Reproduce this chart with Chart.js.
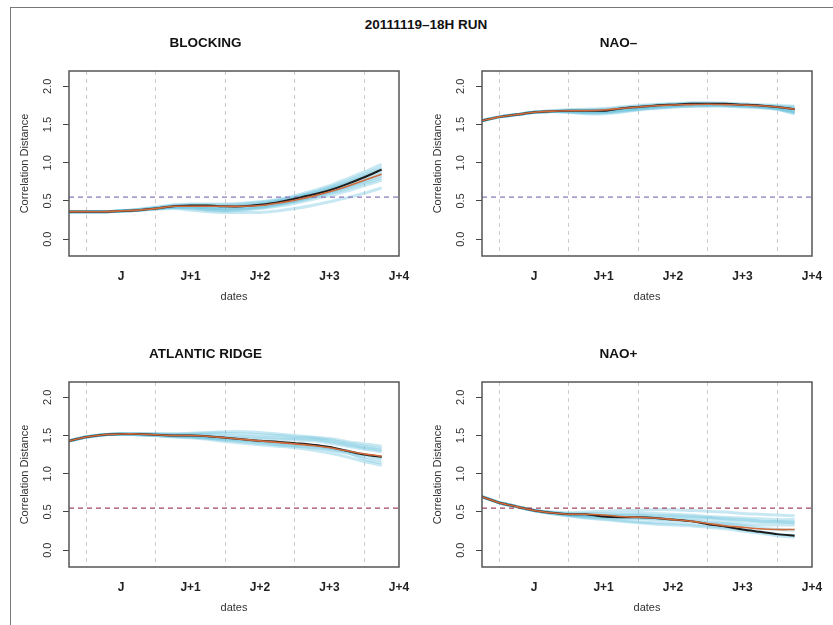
<!DOCTYPE html>
<html>
<head>
<meta charset="utf-8">
<script src="https://cdn.jsdelivr.net/npm/chart.js@4.4.1/dist/chart.umd.min.js"></script>
<style>
html, body { margin: 0; padding: 0; background: #fff; }
body { width: 833px; height: 625px; position: relative; overflow: hidden; font-family: "Liberation Sans", Arial, sans-serif; }
#frame { position: absolute; left: 10px; top: 7px; width: 840px; height: 640px; border-left: 1.5px solid #777; border-top: 1.5px solid #777; }
#main-title { position: absolute; left: 0; width: 852px; top: 17px; text-align: center; font-weight: bold; font-size: 13.5px; color: #111; }
canvas { position: absolute; }
</style>
</head>
<body>
<div id="frame"></div>
<div id="main-title">20111119–18H RUN</div>
<canvas id="c-blocking" width="417" height="282" style="left:12px;top:28px"></canvas>
<canvas id="c-naominus" width="417" height="282" style="left:425px;top:28px"></canvas>
<canvas id="c-ridge" width="417" height="282" style="left:12px;top:339px"></canvas>
<canvas id="c-naoplus" width="417" height="282" style="left:425px;top:339px"></canvas>
<script>
// échéances (heures depuis J 00h), run de 18h la veille
const hours = [-6, 0, 6, 12, 18, 24, 30, 36, 42, 48, 54, 60, 66, 72, 78, 84, 90, 96, 102];
const xTickHours = [12, 36, 60, 84, 108];
const xTickLabels = ["J", "J+1", "J+2", "J+3", "J+4"];
const dayLines = [0, 24, 48, 72, 96];
const yTicks = [0, 0.5, 1, 1.5, 2];
const threshold = 0.55;
const xMin = -6, xMax = 108;
const yMin = -0.22, yMax = 2.2;

// BLOCKING
const blockingOrange = [0.36,0.36,0.36,0.37,0.38,0.40,0.43,0.43,0.43,0.43,0.43,0.44,0.47,0.51,0.56,0.62,0.69,0.77,0.85];
const blockingBlack  = [0.36,0.36,0.36,0.37,0.38,0.40,0.43,0.44,0.44,0.43,0.43,0.45,0.48,0.53,0.58,0.64,0.72,0.81,0.91];
const blockingMembers = [
  [0.36,0.36,0.36,0.37,0.39,0.42,0.45,0.46,0.46,0.46,0.47,0.49,0.52,0.57,0.63,0.70,0.79,0.88,0.98],
  [0.36,0.36,0.36,0.37,0.39,0.41,0.44,0.45,0.45,0.45,0.46,0.48,0.51,0.55,0.61,0.68,0.76,0.85,0.94],
  [0.36,0.36,0.36,0.37,0.38,0.40,0.42,0.42,0.41,0.40,0.41,0.43,0.46,0.51,0.56,0.62,0.69,0.77,0.86],
  [0.36,0.36,0.36,0.37,0.38,0.40,0.42,0.41,0.39,0.38,0.39,0.41,0.45,0.49,0.54,0.60,0.66,0.73,0.80],
  [0.36,0.36,0.36,0.37,0.38,0.40,0.41,0.40,0.38,0.37,0.38,0.40,0.43,0.47,0.52,0.57,0.63,0.70,0.77],
  [0.36,0.36,0.36,0.37,0.38,0.39,0.40,0.38,0.36,0.35,0.35,0.35,0.37,0.40,0.44,0.49,0.54,0.60,0.67],
  [0.36,0.36,0.36,0.37,0.38,0.40,0.43,0.43,0.42,0.42,0.43,0.45,0.49,0.54,0.59,0.66,0.74,0.83,0.92],
  [0.36,0.36,0.36,0.37,0.38,0.41,0.43,0.44,0.43,0.43,0.44,0.46,0.50,0.55,0.60,0.66,0.73,0.81,0.89],
  [0.36,0.36,0.36,0.37,0.38,0.40,0.42,0.42,0.40,0.39,0.40,0.42,0.45,0.50,0.55,0.61,0.68,0.75,0.83]
];

// NAO-
const naoMinusOrange = [1.55,1.60,1.63,1.66,1.675,1.68,1.68,1.69,1.71,1.73,1.745,1.755,1.76,1.765,1.76,1.755,1.745,1.73,1.70];
const naoMinusBlack  = [1.55,1.60,1.63,1.66,1.675,1.68,1.68,1.68,1.71,1.73,1.75,1.76,1.77,1.77,1.77,1.76,1.75,1.73,1.70];
const naoMinusMembers = [
  [1.55,1.60,1.63,1.66,1.67,1.67,1.66,1.66,1.68,1.70,1.72,1.73,1.74,1.75,1.75,1.74,1.73,1.70,1.64],
  [1.55,1.60,1.63,1.66,1.67,1.68,1.67,1.67,1.69,1.72,1.74,1.75,1.76,1.76,1.76,1.75,1.74,1.72,1.67],
  [1.55,1.60,1.63,1.66,1.68,1.69,1.69,1.70,1.72,1.74,1.76,1.77,1.78,1.78,1.77,1.76,1.75,1.74,1.73],
  [1.55,1.60,1.63,1.66,1.67,1.66,1.65,1.65,1.67,1.70,1.72,1.74,1.75,1.75,1.75,1.74,1.73,1.71,1.66],
  [1.55,1.60,1.63,1.66,1.68,1.69,1.70,1.71,1.73,1.75,1.76,1.77,1.78,1.78,1.78,1.77,1.76,1.75,1.74],
  [1.55,1.60,1.63,1.66,1.67,1.67,1.66,1.67,1.69,1.71,1.73,1.75,1.76,1.76,1.76,1.75,1.73,1.71,1.68],
  [1.55,1.60,1.63,1.66,1.67,1.68,1.68,1.69,1.71,1.73,1.75,1.76,1.77,1.77,1.76,1.75,1.74,1.73,1.71],
  [1.55,1.60,1.63,1.66,1.67,1.66,1.64,1.64,1.66,1.69,1.71,1.73,1.74,1.74,1.74,1.73,1.72,1.70,1.65]
];

// ATLANTIC RIDGE
const ridgeOrange = [1.43,1.48,1.51,1.52,1.52,1.51,1.50,1.50,1.49,1.47,1.45,1.43,1.41,1.39,1.37,1.34,1.30,1.26,1.23];
const ridgeBlack  = [1.43,1.48,1.51,1.52,1.52,1.51,1.50,1.50,1.49,1.47,1.45,1.43,1.42,1.40,1.38,1.35,1.30,1.25,1.22];
const ridgeMembers = [
  [1.43,1.48,1.51,1.52,1.52,1.52,1.52,1.53,1.54,1.55,1.55,1.54,1.52,1.50,1.48,1.46,1.42,1.39,1.36],
  [1.43,1.48,1.51,1.52,1.52,1.52,1.52,1.52,1.53,1.53,1.52,1.51,1.50,1.48,1.47,1.44,1.40,1.36,1.33],
  [1.43,1.48,1.51,1.52,1.52,1.51,1.50,1.50,1.49,1.48,1.47,1.46,1.45,1.44,1.43,1.40,1.36,1.32,1.29],
  [1.43,1.48,1.51,1.52,1.51,1.50,1.49,1.48,1.46,1.44,1.42,1.40,1.38,1.36,1.34,1.31,1.27,1.22,1.18],
  [1.43,1.48,1.51,1.52,1.51,1.50,1.48,1.47,1.45,1.42,1.40,1.38,1.36,1.34,1.31,1.27,1.22,1.16,1.11],
  [1.43,1.48,1.51,1.52,1.52,1.51,1.50,1.49,1.47,1.45,1.44,1.42,1.41,1.39,1.37,1.34,1.30,1.25,1.21],
  [1.43,1.48,1.51,1.52,1.52,1.52,1.51,1.51,1.51,1.50,1.49,1.48,1.47,1.46,1.45,1.42,1.38,1.34,1.31],
  [1.43,1.48,1.51,1.52,1.51,1.50,1.49,1.48,1.47,1.46,1.44,1.42,1.39,1.37,1.35,1.32,1.28,1.19,1.14]
];

// NAO+
const naoPlusOrange = [0.70,0.62,0.57,0.52,0.49,0.47,0.47,0.46,0.44,0.43,0.42,0.40,0.38,0.35,0.32,0.30,0.28,0.27,0.27];
const naoPlusBlack  = [0.70,0.62,0.57,0.52,0.49,0.47,0.47,0.44,0.43,0.43,0.42,0.40,0.38,0.34,0.31,0.27,0.24,0.21,0.19];
const naoPlusMembers = [
  [0.70,0.62,0.57,0.52,0.50,0.49,0.50,0.51,0.52,0.52,0.53,0.53,0.52,0.51,0.50,0.48,0.47,0.46,0.45],
  [0.70,0.62,0.57,0.52,0.49,0.48,0.48,0.48,0.48,0.48,0.48,0.47,0.46,0.44,0.43,0.42,0.41,0.40,0.40],
  [0.70,0.62,0.57,0.52,0.49,0.47,0.46,0.45,0.45,0.45,0.44,0.43,0.42,0.41,0.39,0.38,0.37,0.37,0.36],
  [0.70,0.62,0.57,0.52,0.49,0.46,0.44,0.43,0.42,0.41,0.40,0.39,0.38,0.36,0.35,0.34,0.33,0.33,0.33],
  [0.70,0.62,0.57,0.52,0.48,0.45,0.43,0.41,0.39,0.37,0.36,0.35,0.34,0.32,0.30,0.27,0.24,0.21,0.19],
  [0.70,0.62,0.57,0.52,0.48,0.45,0.42,0.40,0.38,0.36,0.34,0.33,0.32,0.30,0.28,0.25,0.22,0.19,0.17],
  [0.70,0.62,0.57,0.52,0.49,0.47,0.46,0.46,0.46,0.46,0.45,0.45,0.44,0.43,0.41,0.40,0.38,0.37,0.37],
  [0.70,0.62,0.57,0.52,0.49,0.46,0.45,0.44,0.43,0.42,0.41,0.40,0.39,0.37,0.35,0.32,0.29,0.27,0.26]
];

Chart.defaults.font.family = '"Liberation Sans", Arial, Helvetica, sans-serif';
Chart.defaults.color = "#222";

// cadre du panneau (box() de R)
const boxPlugin = {
  id: "box",
  afterDatasetsDraw(chart) {
    const { ctx, chartArea: a } = chart;
    ctx.save();
    ctx.strokeStyle = "#555";
    ctx.lineWidth = 1.5;
    ctx.strokeRect(a.left, a.top, a.right - a.left, a.bottom - a.top);
    ctx.restore();
  }
};

const toPoints = (vals) => hours.map((h, i) => ({ x: h, y: vals[i] }));

function makePanel(id, title, orange, black, members, dashColor) {
  const datasets = [
    { data: toPoints(orange), borderColor: "#cf6a3c", borderWidth: 1.6 },
    { data: toPoints(black), borderColor: "#1c1c1c", borderWidth: 2 },
    { data: [{ x: xMin, y: threshold }, { x: xMax, y: threshold }], borderColor: dashColor, borderWidth: 1.3, borderDash: [5, 4], tension: 0 }
  ];
  members.forEach(m => datasets.push({ data: toPoints(m), borderColor: "rgba(100,190,218,0.36)", borderWidth: 3 }));

  return new Chart(document.getElementById(id), {
    type: "line",
    data: { datasets },
    plugins: [boxPlugin],
    options: {
      responsive: false,
      animation: false,
      layout: { padding: { left: 0, right: 30, top: 0, bottom: 0 } },
      elements: { point: { radius: 0 }, line: { tension: 0.25, fill: false } },
      plugins: {
        legend: { display: false },
        tooltip: { enabled: false },
        title: { display: true, text: title, color: "#111", font: { size: 13.5, weight: "bold" }, padding: { top: 7, bottom: 19.8 } }
      },
      scales: {
        x: {
          type: "linear", position: "bottom", min: xMin, max: xMax,
          afterBuildTicks: s => { s.ticks = xTickHours.map(v => ({ value: v })); },
          afterFit: s => { s.height = 54; },
          grid: { display: false, drawTicks: false },
          border: { display: false },
          ticks: { autoSkip: false, maxRotation: 0, padding: 13.8, color: "#222", font: { size: 12, weight: "bold" }, callback: (v, i) => xTickLabels[i] },
          title: { display: true, text: "dates", color: "#333", font: { size: 11 }, padding: { top: 0, bottom: 6.4 } }
        },
        xg: {
          type: "linear", position: "bottom", min: xMin, max: xMax,
          afterBuildTicks: s => { s.ticks = dayLines.map(v => ({ value: v })); },
          afterFit: s => { s.height = 0; },
          ticks: { display: false },
          grid: { color: "#d2caca", lineWidth: 1, drawTicks: false },
          border: { display: false, dash: [4, 4] }
        },
        y: {
          type: "linear", min: yMin, max: yMax,
          afterBuildTicks: s => { s.ticks = yTicks.map(v => ({ value: v })); },
          afterFit: s => { s.width = 57; },
          grid: { drawOnChartArea: false, drawTicks: true, tickLength: 6, color: "#444", lineWidth: 1 },
          border: { display: false },
          ticks: { minRotation: 90, maxRotation: 90, crossAlign: "center", padding: 7.4, color: "#333", font: { size: 11 }, callback: v => v.toFixed(1) },
          title: { display: true, text: "Correlation Distance", color: "#333", font: { size: 11 }, padding: { top: 6.4, bottom: 0 } }
        }
      }
    }
  });
}

makePanel("c-blocking", "BLOCKING", blockingOrange, blockingBlack, blockingMembers, "#8c78bc");
makePanel("c-naominus", "NAO\u2013", naoMinusOrange, naoMinusBlack, naoMinusMembers, "#8c78bc");
makePanel("c-ridge", "ATLANTIC RIDGE", ridgeOrange, ridgeBlack, ridgeMembers, "#a3465f");
makePanel("c-naoplus", "NAO+", naoPlusOrange, naoPlusBlack, naoPlusMembers, "#a3465f");
</script>
</body>
</html>
